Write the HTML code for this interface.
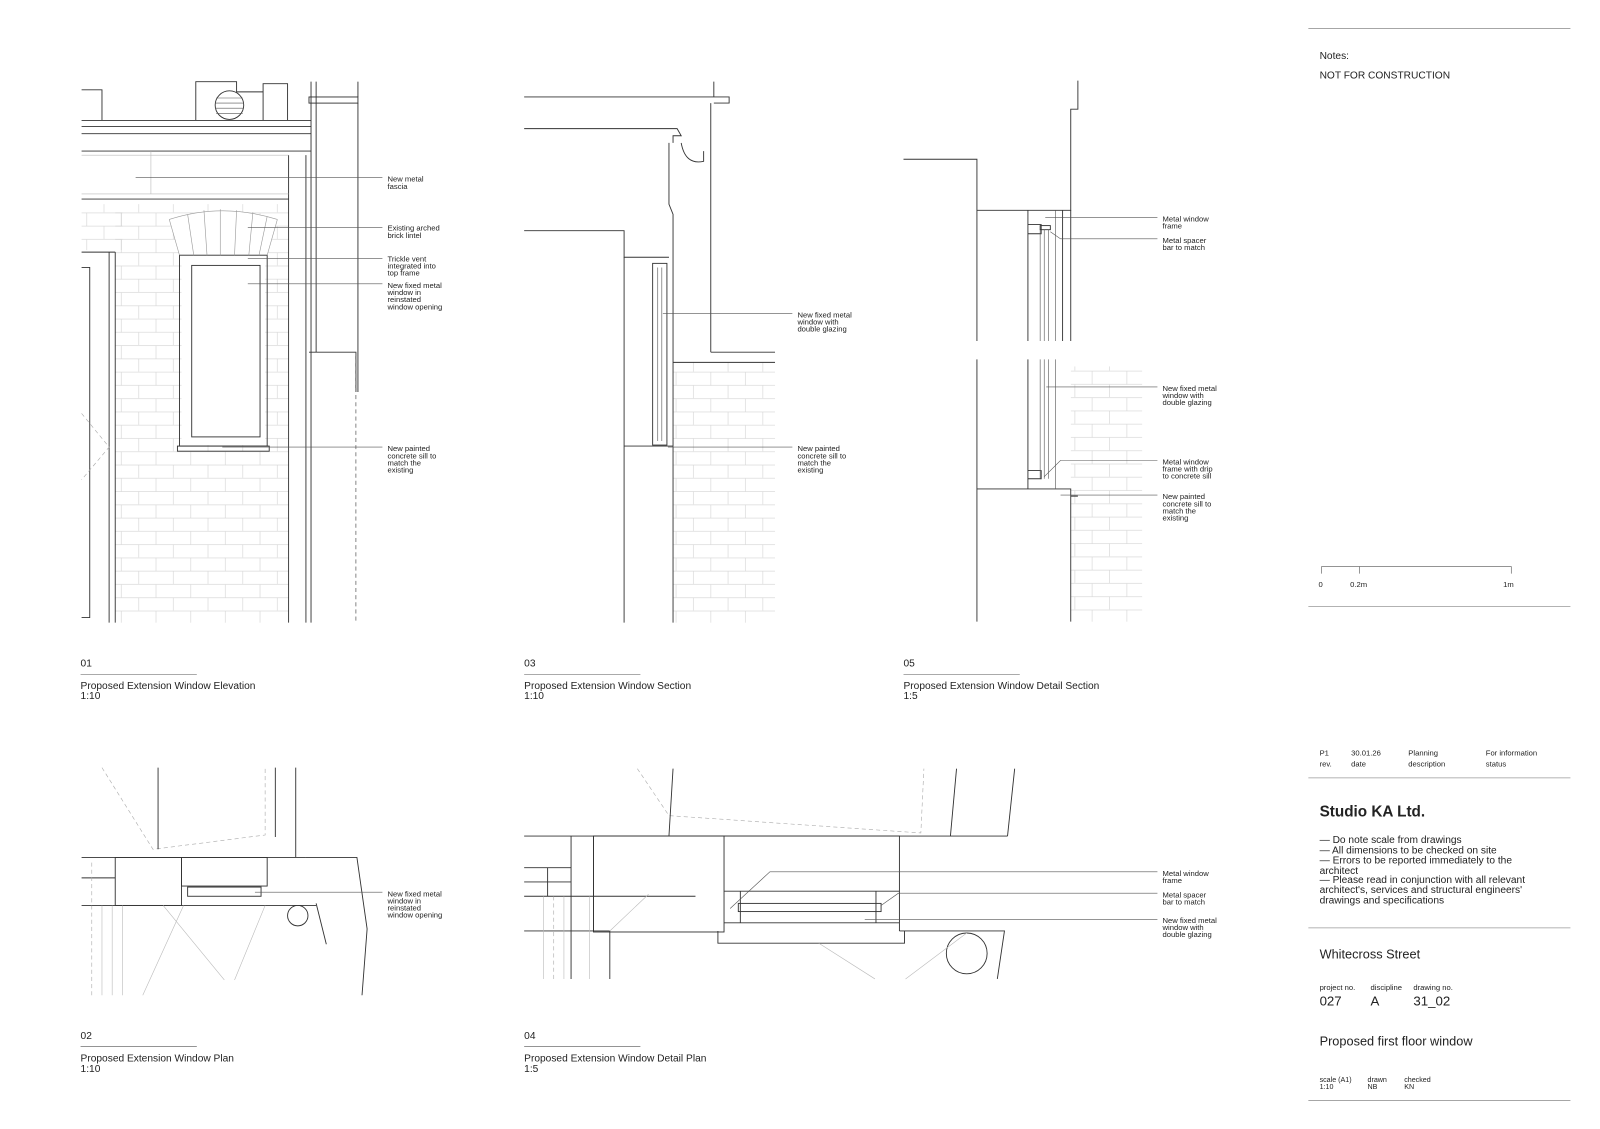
<!DOCTYPE html>
<html><head><meta charset="utf-8">
<style>
html,body{margin:0;padding:0;background:#fff;}
svg{display:block;}
text{font-family:"Liberation Sans",Arial,sans-serif;fill:#222;}
.l{stroke:#333;stroke-width:0.9;fill:none;}
.t{stroke:#555;stroke-width:0.6;fill:none;}
.g{stroke:#bbb;stroke-width:0.6;fill:none;}
.d{stroke:#555;stroke-width:0.7;fill:none;stroke-dasharray:4 3;}
.dg{stroke:#aaa;stroke-width:0.6;fill:none;stroke-dasharray:4 3;}
.s{font-size:7.5px;}
.m{font-size:10px;}
</style></head><body>
<svg width="1600" height="1129" viewBox="0 0 1569 1106" preserveAspectRatio="none" xmlns="http://www.w3.org/2000/svg">
<defs>
<pattern id="brick" width="34" height="26" patternUnits="userSpaceOnUse">
<path d="M0 0.5H34 M0 13.5H34 M17 0.5V13.5 M0 13.5V26 M34 13.5V26" stroke="#d4d4d4" stroke-width="0.6" fill="none"/>
</pattern>
</defs>

<!-- TITLE BLOCK -->
<g stroke="#999" stroke-width="0.8">
<line x1="1283" y1="28" x2="1540" y2="28"/>
<line x1="1283" y1="594" x2="1540" y2="594"/>
<line x1="1283" y1="762" x2="1540" y2="762"/>
<line x1="1283" y1="909" x2="1540" y2="909"/>
<line x1="1283" y1="1078" x2="1540" y2="1078"/>
</g>
<text x="1294" y="58" class="m">Notes:</text>
<text x="1294" y="77" class="m">NOT FOR CONSTRUCTION</text>
<g class="t"><path d="M1296 562V555H1482V562 M1333 555V562"/></g>
<text x="1293" y="575" class="s">0</text>
<text x="1324" y="575" class="s">0.2m</text>
<text x="1474" y="575" class="s">1m</text>

<text x="1294" y="740" class="s">P1</text>
<text x="1325" y="740" class="s">30.01.26</text>
<text x="1381" y="740" class="s">Planning</text>
<text x="1457" y="740" class="s">For information</text>
<text x="1294" y="751" class="s">rev.</text>
<text x="1325" y="751" class="s">date</text>
<text x="1381" y="751" class="s">description</text>
<text x="1457" y="751" class="s">status</text>

<text x="1294" y="800" style="font-size:15px;font-weight:bold">Studio KA Ltd.</text>
<g style="font-size:10px">
<text x="1294" y="826">— Do note scale from drawings</text>
<text x="1294" y="836">— All dimensions to be checked on site</text>
<text x="1294" y="846">— Errors to be reported immediately to the</text>
<text x="1294" y="856">architect</text>
<text x="1294" y="865">— Please read in conjunction with all relevant</text>
<text x="1294" y="875">architect's, services and structural engineers'</text>
<text x="1294" y="885">drawings and specifications</text>
</g>
<text x="1294" y="939" style="font-size:12.5px">Whitecross Street</text>
<text x="1294" y="970" class="s">project no.</text>
<text x="1344" y="970" class="s">discipline</text>
<text x="1386" y="970" class="s">drawing no.</text>
<text x="1294" y="985" style="font-size:13px">027</text>
<text x="1344" y="985" style="font-size:13px">A</text>
<text x="1386" y="985" style="font-size:13px">31_02</text>
<text x="1294" y="1024" style="font-size:12.5px">Proposed first floor window</text>
<g style="font-size:7px">
<text x="1294" y="1060">scale (A1)</text><text x="1294" y="1067">1:10</text>
<text x="1341" y="1060">drawn</text><text x="1341" y="1067">NB</text>
<text x="1377" y="1060">checked</text><text x="1377" y="1067">KN</text>
</g>

<!-- DRAWING TITLES -->
<g class="t">
<line x1="79" y1="661" x2="193" y2="661"/>
<line x1="514" y1="661" x2="628" y2="661"/>
<line x1="886" y1="661" x2="1000" y2="661"/>
<line x1="79" y1="1025" x2="193" y2="1025"/>
<line x1="514" y1="1025" x2="628" y2="1025"/>
</g>
<g class="m">
<text x="79" y="653">01</text><text x="79" y="675">Proposed Extension Window Elevation</text><text x="79" y="685">1:10</text>
<text x="514" y="653">03</text><text x="514" y="675">Proposed Extension Window Section</text><text x="514" y="685">1:10</text>
<text x="886" y="653">05</text><text x="886" y="675">Proposed Extension Window Detail Section</text><text x="886" y="685">1:5</text>
<text x="79" y="1018">02</text><text x="79" y="1040">Proposed Extension Window Plan</text><text x="79" y="1050">1:10</text>
<text x="514" y="1018">04</text><text x="514" y="1040">Proposed Extension Window Detail Plan</text><text x="514" y="1050">1:5</text>
</g>

<!-- DRAWING 01 ELEVATION -->
<rect x="113" y="200" width="170" height="410" fill="url(#brick)"/>
<rect x="80" y="200" width="40" height="45" fill="url(#brick)"/>
<path d="M166 215 Q218 198 272 215 L262 250 H176 Z" fill="#fff"/>
<rect x="178" y="250" width="82" height="186" fill="#fff"/>
<g class="l">
<path d="M80 88H100V118 M192 118V80H232V90H258 M258 118V82H282V118"/>
<line x1="80" y1="118" x2="305" y2="118"/>
<line x1="80" y1="124" x2="305" y2="124"/>
<line x1="80" y1="131" x2="305" y2="131"/>
<line x1="80" y1="148" x2="305" y2="148"/>
<line x1="305" y1="80" x2="305" y2="610"/>
<line x1="310" y1="80" x2="310" y2="345"/>
<rect x="303" y="95" width="48" height="6"/>
<line x1="351" y1="80" x2="351" y2="95"/>
<line x1="351" y1="101" x2="351" y2="384"/>
<path d="M303 345H349V384"/>
<line x1="283" y1="152" x2="283" y2="610"/>
<line x1="300" y1="152" x2="300" y2="610"/>
<line x1="80" y1="195" x2="283" y2="195"/>
<line x1="107" y1="247" x2="107" y2="610"/>
<line x1="113" y1="247" x2="113" y2="610"/>
<path d="M80 247H113"/>
<path d="M80 262H88V605H80"/>
<rect x="176" y="250" width="86" height="187"/>
<rect x="188" y="260" width="67" height="168"/>
<rect x="174" y="437" width="90" height="5"/>
</g>
<circle cx="225" cy="103" r="14" class="l"/>
<g class="t"><path d="M212 96H238 M211 101H239 M211 106H239 M212 111H238"/></g>
<g stroke="#999" stroke-width="0.6" fill="none"><path d="M166 215 Q218 198 272 215 M166 215L176 250 M272 215L262 250 M184 210L190 250 M200 206L203 250 M216 205V250 M232 206L230 250 M248 208L244 250 M262 212L254 250"/></g>
<g class="g"><path d="M80 152H283 M80 190H283 M148 148V190"/></g>
<path d="M80 405L107 438L80 470" class="dg"/>
<line x1="349" y1="345" x2="349" y2="610" class="d"/>
<g class="t">
<path d="M133 174H375 M243 223H375 M243 253H375 M243 278H375 M218 438H375"/>
</g>
<g class="s">
<text x="380" y="178">New metal</text><text x="380" y="185">fascia</text>
<text x="380" y="226">Existing arched</text><text x="380" y="233">brick lintel</text>
<text x="380" y="256">Trickle vent</text><text x="380" y="263">integrated into</text><text x="380" y="270">top frame</text>
<text x="380" y="282">New fixed metal</text><text x="380" y="289">window in</text><text x="380" y="296">reinstated</text><text x="380" y="303">window opening</text>
<text x="380" y="442">New painted</text><text x="380" y="449">concrete sill to</text><text x="380" y="456">match the</text><text x="380" y="463">existing</text>
</g>

<!-- DRAWING 03 SECTION -->
<rect x="660" y="355" width="100" height="255" fill="url(#brick)"/>
<g class="l">
<path d="M700 80V95 M514 95H715V101H700"/>
<path d="M514 126H664L668 133H660V140"/>
<path d="M668 140 Q672 162 690 158 V148" />
<line x1="697" y1="101" x2="697" y2="345"/>
<path d="M697 345H760 M660 355H760"/>
<path d="M514 226H612V252H656 M656 140V200L660 210V437"/>
<path d="M612 437H660 M612 252V610 M660 437V610"/>
<rect x="640" y="258" width="14" height="178"/>
</g>
<g class="t"><path d="M645 262V432 M649 262V432"/></g>
<g class="t"><path d="M650 307H777 M655 438H777"/></g>
<g class="s">
<text x="782" y="311">New fixed metal</text><text x="782" y="318">window with</text><text x="782" y="325">double glazing</text>
<text x="782" y="442">New painted</text><text x="782" y="449">concrete sill to</text><text x="782" y="456">match the</text><text x="782" y="463">existing</text>
</g>

<!-- DRAWING 05 DETAIL SECTION -->
<g transform="translate(0,-1)">
<rect x="1050" y="360" width="70" height="250" fill="url(#brick)"/>
<rect x="1035" y="360" width="15" height="120" fill="#fff"/>
<g class="l">
<path d="M1057 80V108H1050V207H958 M886 157H958V335 M958 353V610"/>
<path d="M1008 207V335 M1008 353V480 M1050 207V335 M1042 207V335"/>
<path d="M1008 221H1021V230H1008 M1008 462H1021V470H1008"/>
<path d="M958 480H1050V487H1057 M1050 487V610"/>
<rect x="1020" y="222" width="10" height="4"/>
</g>
<g class="t"><path d="M1020 226V335 M1024 226V335 M1028 226V335 M1020 353V470 M1024 353V470 M1028 353V470 M1035 207V335 M1035 353V480"/></g>
<g class="t"><path d="M1025 214H1135 M1030 228L1040 235H1135 M1026 380H1135 M1024 468L1040 452H1135 M1040 486H1135"/></g>
<g class="s">
<text x="1140" y="218">Metal window</text><text x="1140" y="225">frame</text>
<text x="1140" y="239">Metal spacer</text><text x="1140" y="246">bar to match</text>
<text x="1140" y="384">New fixed metal</text><text x="1140" y="391">window with</text><text x="1140" y="398">double glazing</text>
<text x="1140" y="456">Metal window</text><text x="1140" y="463">frame with drip</text><text x="1140" y="470">to concrete sill</text>
<text x="1140" y="490">New painted</text><text x="1140" y="497">concrete sill to</text><text x="1140" y="504">match the</text><text x="1140" y="511">existing</text>
</g>
</g>

<!-- DRAWING 02 PLAN -->
<g class="dg"><path d="M100 752L150 832L260 818V752"/></g>
<g class="l">
<path d="M155 752V832 M270 752V820 M290 752V840"/>
<path d="M80 840H300 M80 860H113 M80 887H310"/>
<rect x="113" y="840" width="65" height="47"/>
<rect x="178" y="840" width="84" height="28"/>
<rect x="184" y="869" width="72" height="9"/>
<path d="M310 885L320 925 M300 840H350L360 910L355 975"/>
</g>
<circle cx="292" cy="897" r="10" class="l"/>
<g class="g"><path d="M160 887L220 960 M260 887L230 960 M100 887V975 M110 887V975 M120 887V975 M180 887L140 975"/></g>
<g class="dg"><path d="M90 845V975"/></g>
<g class="t"><path d="M250 874H375"/></g>
<g class="s">
<text x="380" y="878">New fixed metal</text><text x="380" y="885">window in</text><text x="380" y="892">reinstated</text><text x="380" y="899">window opening</text>
</g>

<!-- DRAWING 04 DETAIL PLAN -->
<g transform="translate(-12,-16)">
<g class="dg"><path d="M637 769L668 815L915 832L918 769"/></g>
<g class="l">
<path d="M672 769L668 835 M950 769L944 835 M1007 769L1000 835"/>
<path d="M526 835H1000 M526 866H572 M526 880H572 M526 894H694 M526 928H610 M549 866V894 M572 835V975 M594 835V928 M610 928V975"/>
<rect x="594" y="835" width="128" height="94"/>
<path d="M722 835H894V928 M722 889H894 M722 920H894"/>
<path d="M716 928V940H899V928 M894 928H997L990 975"/>
<rect x="736" y="901" width="140" height="8"/>
<path d="M738 889V920 M871 889V920"/>
</g>
<circle cx="960" cy="950" r="20" class="l"/>
<g class="g"><path d="M545 975V894 M565 975V894 M590 975V894 M610 928L648 892 M815 940L870 975 M900 975L960 930"/></g>
<g class="dg"><path d="M555 894V975"/></g>
<g class="t"><path d="M728 906L767 870H1147 M876 903L893 891H1147 M860 917H1147"/></g>
<g class="s">
<text x="1152" y="874">Metal window</text><text x="1152" y="881">frame</text>
<text x="1152" y="895">Metal spacer</text><text x="1152" y="902">bar to match</text>
<text x="1152" y="920">New fixed metal</text><text x="1152" y="927">window with</text><text x="1152" y="934">double glazing</text>
</g>
</g>
</svg>
</body></html>
